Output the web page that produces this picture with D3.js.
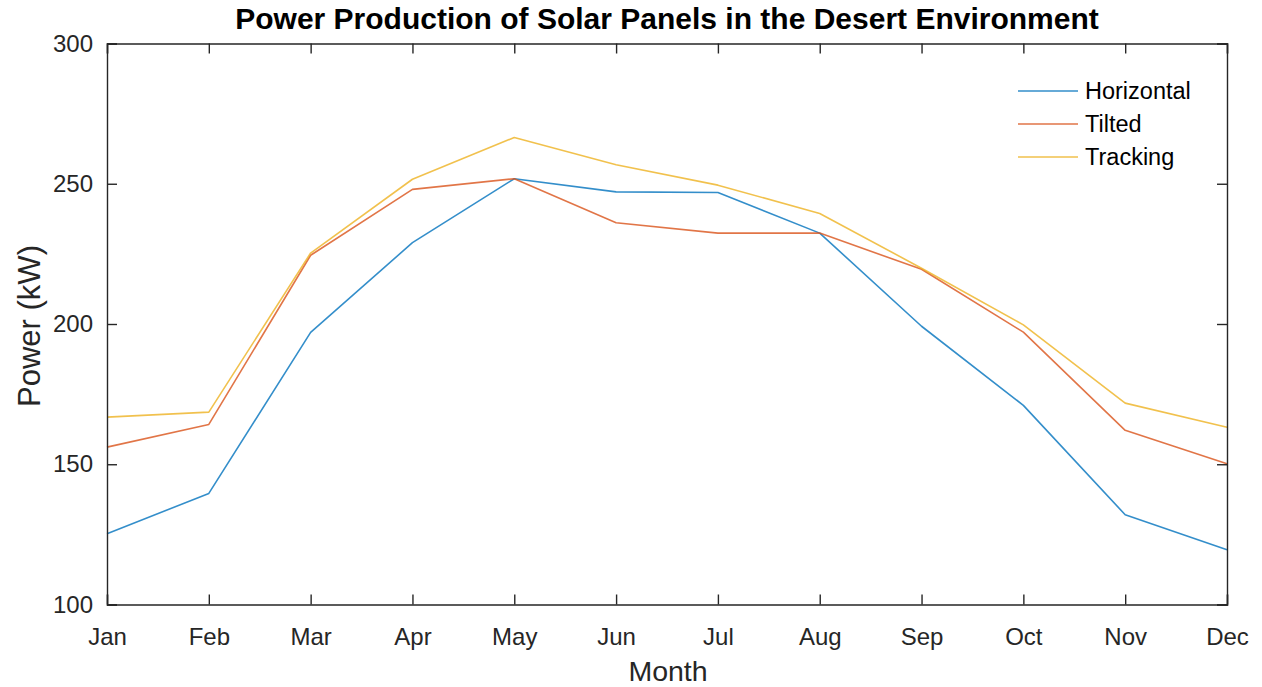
<!DOCTYPE html>
<html>
<head>
<meta charset="utf-8">
<script src="https://cdn.jsdelivr.net/npm/d3@7"></script>
<style>
  html, body { margin: 0; padding: 0; background: #fff; }
  svg { display: block; }
  text { font-family: "Liberation Sans", Arial, Helvetica, sans-serif; fill: #262626; }
</style>
</head>
<body>
<svg id="chart" width="1262" height="687"></svg>
<script>
// Monthly power output (kW) for three panel mountings
const months = ["Jan", "Feb", "Mar", "Apr", "May", "Jun", "Jul", "Aug", "Sep", "Oct", "Nov", "Dec"];
const horizontal = [125.2, 139.6, 197.0, 229.0, 251.8, 247.1, 246.9, 232.4, 199.2, 171.0, 132.0, 119.5];
const tilted     = [156.1, 164.2, 224.5, 248.0, 251.8, 236.1, 232.4, 232.4, 219.5, 197.1, 162.1, 150.2];
const tracking   = [166.8, 168.6, 225.3, 251.6, 266.5, 256.8, 249.5, 239.4, 219.9, 199.7, 171.8, 163.2];
const yTicks = [100, 150, 200, 250, 300];
const seriesNames = ["Horizontal", "Tilted", "Tracking"];
const seriesColors = ["#0072BD", "#D95319", "#EDB120"];

const series = [horizontal, tilted, tracking].map((values, i) => ({
  name: seriesNames[i], color: seriesColors[i], values
}));

const svg = d3.select("#chart");
const plotLeft = 107, plotRight = 1227, plotTop = 43.5, plotBottom = 604.5;

const x = d3.scalePoint().domain(months).range([plotLeft, plotRight]);
const y = d3.scaleLinear().domain([100, 300]).range([plotBottom, plotTop]);

const axisColor = "#262626";
const tickLen = 10;

// Data lines
const line = d3.line().x((d, i) => x(months[i])).y(d => y(d));
svg.append("g").selectAll("path").data(series).join("path")
  .attr("d", d => line(d.values))
  .attr("fill", "none")
  .attr("stroke", d => d.color)
  .attr("stroke-width", 1.6)
  .attr("stroke-opacity", 0.8)
  .attr("stroke-linejoin", "round");

// Axes with inward ticks, mirrored on top and right
const gx = svg.append("g").attr("transform", `translate(0,${plotBottom})`)
  .call(d3.axisBottom(x).tickSize(-tickLen).tickPadding(23.5));
const gxTop = svg.append("g").attr("transform", `translate(0,${plotTop})`)
  .call(d3.axisTop(x).tickSize(-tickLen).tickFormat(""));
const gy = svg.append("g").attr("transform", `translate(${plotLeft},0)`)
  .call(d3.axisLeft(y).tickValues(yTicks).tickSize(-tickLen).tickPadding(14));
const gyRight = svg.append("g").attr("transform", `translate(${plotRight},0)`)
  .call(d3.axisRight(y).tickValues(yTicks).tickSize(-tickLen).tickFormat(""));

[gx, gxTop, gy, gyRight].forEach(g => {
  g.select(".domain").attr("stroke", axisColor).attr("stroke-width", 1.4);
  g.selectAll(".tick line").attr("stroke", axisColor).attr("stroke-width", 1.4);
  g.selectAll(".tick text").attr("font-size", 24).attr("fill", axisColor)
    .style("font-family", "'Liberation Sans', Arial, sans-serif");
});
gx.selectAll(".tick text").attr("dy", "0.71em");

// Title and axis labels
svg.append("text")
  .attr("x", (plotLeft + plotRight) / 2).attr("y", 29)
  .attr("text-anchor", "middle")
  .attr("font-size", 30).attr("font-weight", "bold").style("fill", "#000")
  .text("Power Production of Solar Panels in the Desert Environment");

svg.append("text")
  .attr("x", (plotLeft + plotRight) / 2 + 1).attr("y", 681)
  .attr("text-anchor", "middle")
  .attr("font-size", 28.5)
  .text("Month");

svg.append("text")
  .attr("transform", `translate(39.5,326) rotate(-90)`)
  .attr("text-anchor", "middle")
  .attr("font-size", 31)
  .text("Power (kW)");

// Legend
const legend = svg.append("g");
series.forEach((s, i) => {
  const ly = 91 + i * 33;
  legend.append("line")
    .attr("x1", 1018).attr("x2", 1078).attr("y1", ly).attr("y2", ly)
    .attr("stroke", s.color).attr("stroke-width", 1.6).attr("stroke-opacity", 0.8);
  legend.append("text")
    .attr("x", 1085).attr("y", ly).attr("dy", "0.35em")
    .attr("font-size", 23.5).style("fill", "#000")
    .text(s.name);
});
</script>
</body>
</html>
